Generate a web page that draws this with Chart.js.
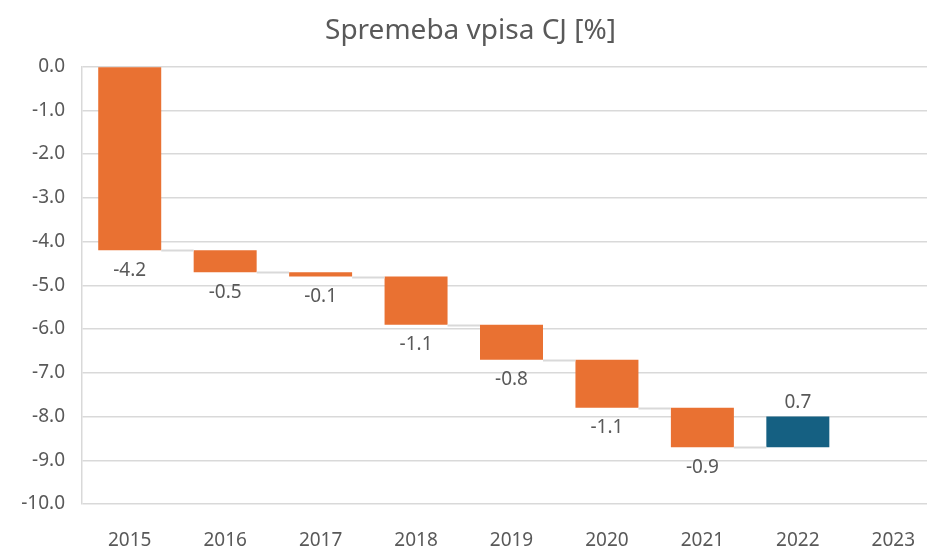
<!DOCTYPE html>
<html lang="sl">
<head>
<meta charset="UTF-8" />
<title>Spremeba vpisa CJ</title>
<script src="https://cdn.jsdelivr.net/npm/chart.js@4.4.1/dist/chart.umd.min.js"></script>
<style>
  html, body { margin: 0; padding: 0; background: #fff; overflow: hidden; }
  #wrap { width: 945px; height: 551px; }
</style>
</head>
<body>
<div id="wrap"><canvas id="chart"></canvas></div>
<script>
const years = ["2015", "2016", "2017", "2018", "2019", "2020", "2021", "2022", "2023"];
const changes = [-4.2, -0.5, -0.1, -1.1, -0.8, -1.1, -0.9, 0.7, null];
const yTicks = [0, -1, -2, -3, -4, -5, -6, -7, -8, -9, -10];

const orange = "#E97132";
const blue = "#156082";
const textGrey = "#595959";
const gridGrey = "#D9D9D9";
const font = "'Noto Sans', 'Open Sans', sans-serif";

// floating bars: [start, end] from running total
const ranges = [];
let level = 0;
changes.forEach(function (c) {
    if (c === null) { ranges.push(null); return; }
    ranges.push([level, level + c]);
    level = level + c;
});

const waterfallExtras = {
    id: "waterfallExtras",
    afterDatasetsDraw(chart) {
        const ctx = chart.ctx;
        const y = chart.scales.y;
        const bars = chart.getDatasetMeta(0).data;
        ctx.save();
        // connectors
        ctx.strokeStyle = gridGrey;
        ctx.lineWidth = 2;
        for (let i = 0; i < ranges.length - 1; i++) {
            if (!ranges[i] || !ranges[i + 1]) continue;
            const a = bars[i], b = bars[i + 1];
            const py = Math.round(y.getPixelForValue(ranges[i][1])) + 0.5;
            ctx.beginPath();
            ctx.moveTo(a.x + a.width / 2, py);
            ctx.lineTo(b.x - b.width / 2, py);
            ctx.stroke();
        }
        // value labels
        ctx.fillStyle = textGrey;
        ctx.font = "19px " + font;
        ctx.textAlign = "center";
        ctx.textBaseline = "middle";
        ranges.forEach(function (r, i) {
            if (!r) return;
            const c = changes[i];
            const bar = bars[i];
            if (c < 0) {
                ctx.fillText(c.toFixed(1), bar.x, y.getPixelForValue(r[1]) + 20);
            } else {
                ctx.fillText(c.toFixed(1), bar.x, y.getPixelForValue(r[1]) - 14);
            }
        });
        ctx.restore();
    }
};

new Chart(document.getElementById("chart"), {
    type: "bar",
    data: {
        labels: years,
        datasets: [{
            data: ranges,
            backgroundColor: changes.map(function (c) { return c > 0 ? blue : orange; }),
            borderWidth: 0,
            barPercentage: 1,
            categoryPercentage: 0.66
        }]
    },
    options: {
        responsive: true,
        maintainAspectRatio: false,
        animation: false,
        layout: { padding: { left: 0, right: 4, top: 0, bottom: 0 } },
        plugins: {
            legend: { display: false },
            tooltip: { enabled: false },
            title: {
                display: true,
                text: "Spremeba vpisa CJ [%]",
                color: textGrey,
                font: { family: font, size: 28, weight: "normal" },
                padding: { top: 14, bottom: 19 }
            }
        },
        scales: {
            x: {
                grid: { display: false, drawTicks: false },
                border: { display: false },
                ticks: { color: textGrey, font: { family: font, size: 19 }, padding: 25 },
                afterFit: function (scale) { scale.height = 47; }
            },
            y: {
                min: -10,
                max: 0,
                afterBuildTicks: function (scale) {
                    scale.ticks = yTicks.map(function (v) { return { value: v }; });
                },
                grid: { color: gridGrey, lineWidth: 1.5, drawTicks: false },
                border: { display: true, color: gridGrey, width: 1.5 },
                ticks: {
                    color: textGrey,
                    font: { family: font, size: 19 },
                    padding: 17,
                    callback: function (v) { return Number(v).toFixed(1); }
                },
                afterFit: function (scale) { scale.width = 82; }
            }
        }
    },
    plugins: [waterfallExtras]
});
</script>
</body>
</html>
